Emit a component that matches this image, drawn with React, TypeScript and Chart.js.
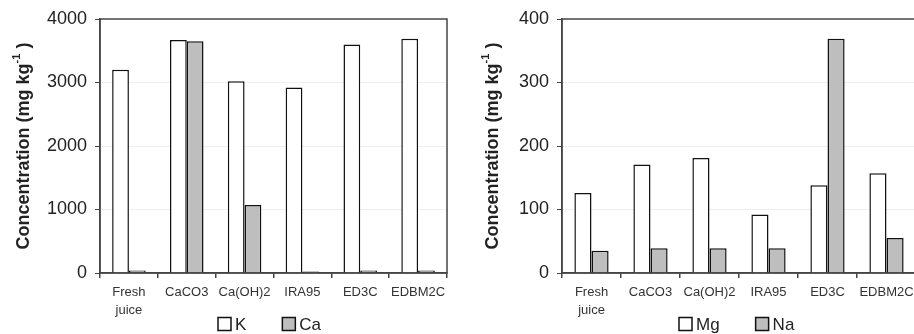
import React, { useEffect, useRef } from "react";
import { Chart, registerables } from "chart.js";
Chart.register(...registerables);

const categories: (string | string[])[] = [["Fresh", "juice"], "CaCO3", "Ca(OH)2", "IRA95", "ED3C", "EDBM2C"];
const kValues = [3200, 3670, 3020, 2920, 3600, 3690];
const caValues = [40, 3650, 1070, 25, 40, 40];
const mgValues = [126, 171, 181, 92, 138, 157];
const naValues = [35, 39, 39, 39, 369, 55];
const leftAxis = { min: 0, max: 4000, step: 1000 };
const rightAxis = { min: 0, max: 400, step: 100 };
const leftSeries = ["K", "Ca"];
const rightSeries = ["Mg", "Na"];
const yTitle = "Concentration (mg kg";
const yTitleSup = "-1";
const yTitleEnd = " )";

const FONT = "'Liberation Sans', Arial, sans-serif";
const FILLS = ["#ffffff", "#bebebe"];
const LINE = "#444444";

type PanelProps = {
  left: number;
  width: number;
  axisWidth: number;
  rightPad: number;
  titleX: number;
  names: string[];
  values: number[][];
  axis: { min: number; max: number; step: number };
  legendX: number;
};

function Panel(p: PanelProps) {
  const ref = useRef<HTMLCanvasElement | null>(null);
  useEffect(() => {
    if (!ref.current) return;
    const boxPlugin = {
      id: "boxAndText",
      afterDatasetsDraw(chart: any) {
        const { ctx, chartArea } = chart;
        ctx.save();
        ctx.strokeStyle = LINE;
        ctx.lineWidth = 1.5;
        ctx.strokeRect(chartArea.left, chartArea.top, chartArea.right - chartArea.left, chartArea.bottom - chartArea.top);
        ctx.restore();
      },
      afterDraw(chart: any) {
        const { ctx, chartArea } = chart;
        ctx.save();
        const cy = (chartArea.top + chartArea.bottom) / 2;
        ctx.translate(p.titleX, cy);
        ctx.rotate(-Math.PI / 2);
        ctx.fillStyle = "#222";
        ctx.textBaseline = "middle";
        ctx.textAlign = "left";
        const big = `bold 18px ${FONT}`;
        const small = `bold 11px ${FONT}`;
        ctx.font = big;
        const w1 = ctx.measureText(yTitle).width;
        const w3 = ctx.measureText(yTitleEnd).width;
        ctx.font = small;
        const w2 = ctx.measureText(yTitleSup).width;
        let x = -(w1 + w2 + w3) / 2;
        ctx.font = big;
        ctx.fillText(yTitle, x, 0);
        x += w1;
        ctx.font = small;
        ctx.fillText(yTitleSup, x, -7);
        x += w2;
        ctx.font = big;
        ctx.fillText(yTitleEnd, x, 0);
        ctx.restore();
        ctx.save();
        ctx.font = `17px ${FONT}`;
        ctx.textBaseline = "middle";
        ctx.textAlign = "left";
        let lx = p.legendX;
        const ly = 324;
        p.names.forEach((n, i) => {
          ctx.fillStyle = FILLS[i];
          ctx.fillRect(lx, ly - 6.5, 13, 13);
          ctx.strokeStyle = "#111";
          ctx.lineWidth = 1.5;
          ctx.strokeRect(lx, ly - 6.5, 13, 13);
          ctx.fillStyle = "#222";
          ctx.fillText(n, lx + 17, ly + 1);
          lx += 17 + ctx.measureText(n).width + 36;
        });
        ctx.restore();
      },
    };
    const chart = new Chart(ref.current, {
      type: "bar",
      data: {
        labels: categories,
        datasets: p.names.map((n, i) => ({
          label: n,
          data: p.values[i],
          backgroundColor: FILLS[i],
          borderColor: "#111",
          borderWidth: 1.5,
          categoryPercentage: 0.58,
          barPercentage: 1,
        })),
      },
      options: {
        responsive: false,
        animation: false,
        devicePixelRatio: 1,
        layout: { padding: { top: 19, right: p.rightPad, bottom: 0, left: 0 } },
        plugins: { legend: { display: false }, tooltip: { enabled: false } },
        scales: {
          x: {
            offset: true,
            grid: {
              display: true,
              offset: true,
              drawOnChartArea: false,
              drawTicks: true,
              tickLength: 5,
              tickColor: LINE,
              color: LINE,
              lineWidth: 1.5,
            },
            border: { display: true, color: LINE, width: 1.5 },
            ticks: {
              font: { family: FONT, size: 13, lineHeight: 1.4 },
              color: "#333",
              padding: 5,
              maxRotation: 0,
              autoSkip: false,
            },
            afterFit: (s: any) => {
              s.height = 61;
            },
          },
          y: {
            min: p.axis.min,
            max: p.axis.max,
            ticks: {
              stepSize: p.axis.step,
              font: { family: FONT, size: 18 },
              color: "#222",
              padding: 8,
              callback: (v: any) => String(v),
            },
            grid: {
              color: (c: any) => (c.tick && (c.tick.value === p.axis.min || c.tick.value === p.axis.max) ? "rgba(0,0,0,0)" : "#efefef"),
              tickColor: LINE,
              tickLength: 5,
              lineWidth: 1,
            },
            border: { display: true, color: LINE, width: 1.5 },
            afterFit: (s: any) => {
              s.width = p.axisWidth;
            },
          },
        },
      },
      plugins: [boxPlugin],
    } as any);
    return () => chart.destroy();
  }, []);
  return (
    <canvas
      ref={ref}
      width={p.width}
      height={334}
      style={{ position: "absolute", left: p.left, top: 0, width: p.width, height: 334, display: "block" }}
    />
  );
}

export default function App() {
  Chart.defaults.font.family = FONT;
  return (
    <div style={{ position: "absolute", left: 0, top: 0, width: 914, height: 334, overflow: "hidden", background: "#fff" }}>
      <Panel
        left={0}
        width={457}
        axisWidth={100}
        rightPad={10}
        titleX={24}
        names={leftSeries}
        values={[kValues, caValues]}
        axis={leftAxis}
        legendX={218}
      />
      <Panel
        left={457}
        width={470}
        axisWidth={105}
        rightPad={11}
        titleX={36}
        names={rightSeries}
        values={[mgValues, naValues]}
        axis={rightAxis}
        legendX={222}
      />
    </div>
  );
}
